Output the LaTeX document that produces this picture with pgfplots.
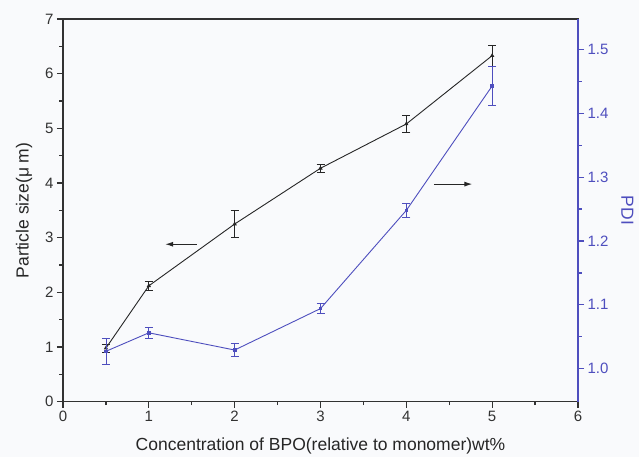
\documentclass[border=0pt]{standalone}
\usepackage{fontspec}
\setmainfont{Liberation Sans}
\usepackage{pgfplots}
\pgfplotsset{compat=1.18}
\usetikzlibrary{arrows.meta}
\definecolor{pdiblue}{RGB}{78,78,190}
\definecolor{axgray}{RGB}{50,50,50}
\definecolor{bg}{RGB}{249,250,252}
\begin{document}
\begin{tikzpicture}
\path[use as bounding box, fill=bg] (-63pt,-55.3pt) rectangle (576pt,401.7pt);
\begin{axis}[
  at={(0,0)}, anchor=south west,
  scale only axis, width=515pt, height=382.7pt,
  xmin=0, xmax=6, ymin=0, ymax=7,
  xtick={0,...,6}, ytick={0,...,7},
  minor x tick num=1, minor y tick num=1,
  xtick pos=bottom, ytick pos=left,
  tick align=outside,
  major tick length=6pt, minor tick length=3.5pt,
  axis line style={axgray, line width=1.5pt},
  every tick/.style={axgray, line width=1.3pt},
  tick label style={font=\fontsize{15}{16}\selectfont, text=axgray},
  /pgf/number format/assume math mode=true,
  xlabel={Concentration of BPO(relative to monomer)wt\%},
  ylabel={Particle size(μ m)},
  label style={font=\fontsize{17.5}{18}\selectfont, text=black!85},
  xlabel style={yshift=-9pt},
  ylabel style={yshift=6pt},
]
\addplot[black!85, line width=0.9pt, mark=triangle*, mark size=1.6pt,
  error bars/.cd, y dir=both, y explicit,
  error bar style={line width=0.8pt, black!85}, error mark options={rotate=90, mark size=4pt, line width=0.8pt, black!85}]
coordinates {
  (0.5,0.98) +- (0,0.07)
  (1,2.12) +- (0,0.08)
  (2,3.25) +- (0,0.24)
  (3,4.27) +- (0,0.07)
  (4,5.08) +- (0,0.16)
  (5,6.33) +- (0,0.19)
};
\draw[-{Latex[length=8pt,width=5pt]}, line width=1.1pt, black!85] (axis cs:1.56,2.88) -- (axis cs:1.19,2.88);
\draw[-{Latex[length=8pt,width=5pt]}, line width=1.1pt, black!85] (axis cs:4.32,3.98) -- (axis cs:4.77,3.98);
\end{axis}
\begin{axis}[
  at={(0,0)}, anchor=south west,
  scale only axis, width=515pt, height=382.7pt,
  xmin=0, xmax=6, ymin=0.948, ymax=1.548,
  axis x line=none, axis y line*=right,
  ytick={1.0,1.1,1.2,1.3,1.4,1.5},
  minor y tick num=1,
  tick align=outside,
  major tick length=6pt, minor tick length=3.5pt,
  axis line style={pdiblue, line width=1.5pt},
  every tick/.style={pdiblue, line width=1.3pt},
  tick label style={font=\fontsize{15}{16}\selectfont, text=pdiblue},
  /pgf/number format/assume math mode=true,
  yticklabel style={/pgf/number format/.cd, fixed, fixed zerofill, precision=1},
  ylabel={PDI},
  ylabel style={font=\fontsize{17.5}{18}\selectfont, text=pdiblue, rotate=180, yshift=6pt},
]
\addplot[pdiblue, line width=0.9pt, mark=square*, mark size=1.3pt,
  error bars/.cd, y dir=both, y explicit,
  error bar style={line width=0.8pt, pdiblue}, error mark options={rotate=90, mark size=4pt, line width=0.8pt, pdiblue}]
coordinates {
  (0.5,1.027) +- (0,0.021)
  (1,1.056) +- (0,0.009)
  (2,1.029) +- (0,0.010)
  (3,1.094) +- (0,0.008)
  (4,1.248) +- (0,0.011)
  (5,1.443) +- (0,0.031)
};
\end{axis}
\end{tikzpicture}
\end{document}
